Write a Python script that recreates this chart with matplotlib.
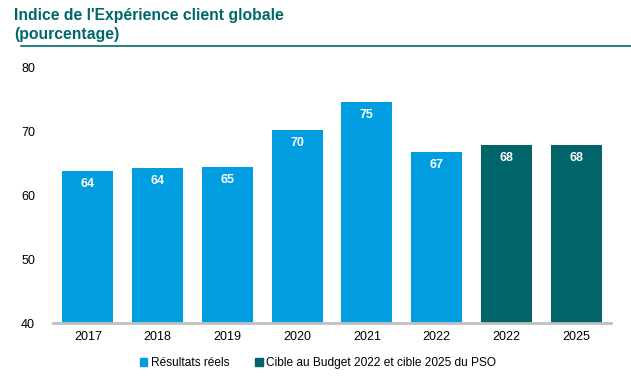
import matplotlib

matplotlib.use("Agg")
import matplotlib.pyplot as plt
from matplotlib.patches import Patch

plt.rcParams["font.family"] = ["Liberation Sans", "DejaVu Sans"]

# données
categories = ["2017", "2018", "2019", "2020", "2021", "2022", "2022", "2025"]
valeurs = [63.8, 64.3, 64.5, 70.3, 74.7, 66.8, 67.9, 67.9]
etiquettes = ["64", "64", "65", "70", "75", "67", "68", "68"]
est_cible = [False, False, False, False, False, False, True, True]

BLEU = "#009ee0"
SARCELLE = "#00646a"
TITRE = "#00686b"

fig = plt.figure(figsize=(6.31, 3.82), dpi=100)
ax = fig.add_axes([53 / 631, 1 - 323 / 382, 558 / 631, 255 / 382])

x = range(len(categories))
couleurs = [SARCELLE if c else BLEU for c in est_cible]
barres = ax.bar(x, [v - 40 for v in valeurs], bottom=40, width=0.73, color=couleurs)

for b, lab in zip(barres, etiquettes):
    ax.text(b.get_x() + b.get_width() / 2, b.get_y() + b.get_height() - 1.1, lab,
            ha="center", va="top", color="white", fontsize=9, fontweight="bold")

ax.set_ylim(40, 80)
ax.set_xlim(-0.5, len(categories) - 0.5)
ax.set_yticks([40, 50, 60, 70, 80])
ax.set_xticks(list(x))
ax.set_xticklabels(categories)
ax.tick_params(axis="both", length=0, labelsize=9, colors="black")
ax.tick_params(axis="y", pad=13)
ax.tick_params(axis="x", pad=6)
for s in ["top", "right", "left"]:
    ax.spines[s].set_visible(False)
ax.spines["bottom"].set_color("#bfbfbf")
ax.spines["bottom"].set_linewidth(2)

fig.text(14 / 631, 1 - 8 / 382, "Indice de l'Expérience client globale\n(pourcentage)",
         ha="left", va="top", fontsize=11.3, fontweight="bold", color=TITRE, linespacing=1.35)
fig.add_artist(plt.Line2D([21 / 631, 1], [1 - 46 / 382, 1 - 46 / 382],
                          transform=fig.transFigure, color=TITRE, linewidth=1.2))

poignees = [Patch(color=BLEU, label="Résultats réels"),
            Patch(color=SARCELLE, label="Cible au Budget 2022 et cible 2025 du PSO")]
fig.legend(handles=poignees, loc="center", bbox_to_anchor=(318 / 631, 1 - 363 / 382),
           ncol=2, frameon=False, fontsize=8.6, handlelength=0.6, handleheight=0.6,
           handletextpad=0.3, columnspacing=2.2)

fig.savefig("out.png", dpi=100)
